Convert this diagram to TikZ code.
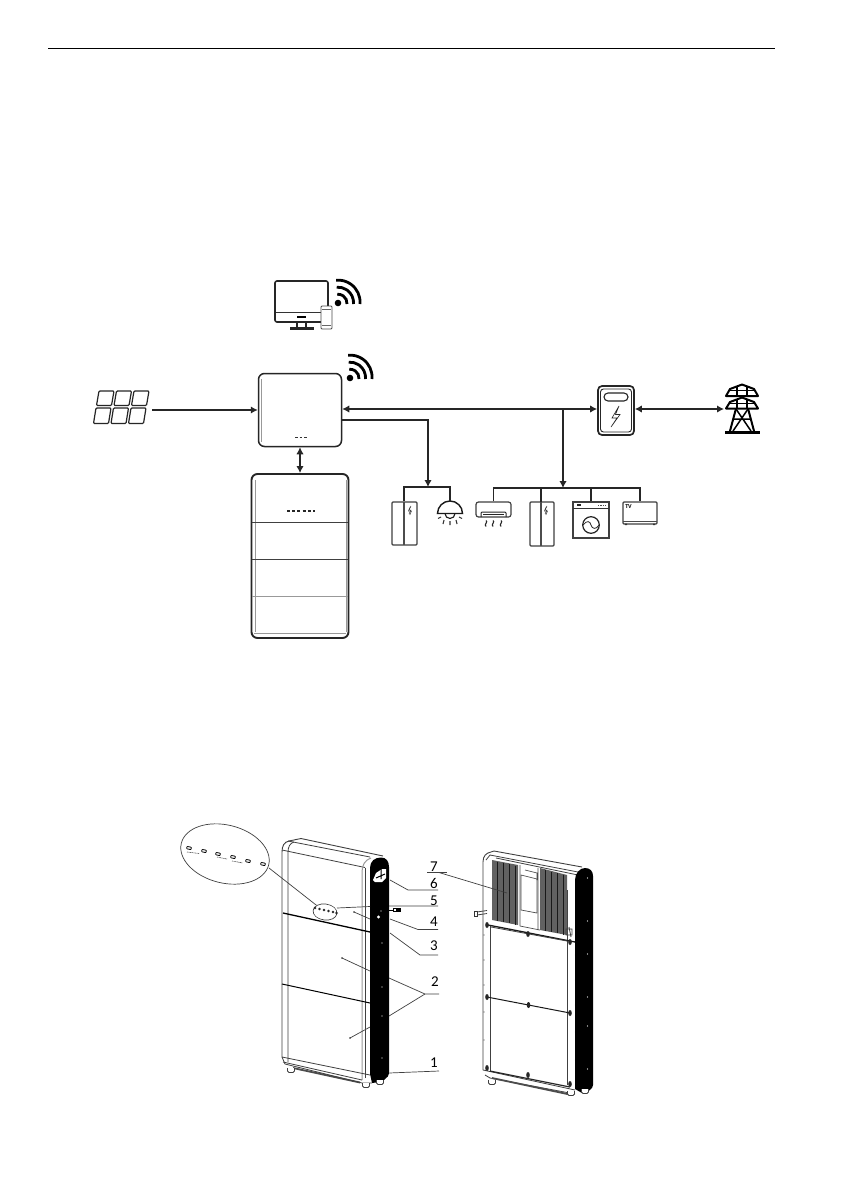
\documentclass[tikz,border=0pt]{standalone}
\usepackage{fontspec}
\setmainfont{Carlito}
\usetikzlibrary{arrows.meta,shapes.geometric}
\tikzset{
  x=1pt,y=-1pt,
  flow/.style={line width=2pt,color=black!85,-{Latex[length=7pt,width=7.5pt]}},
  bothflow/.style={line width=2pt,color=black!85,{Latex[length=7pt,width=7.5pt]}-{Latex[length=7pt,width=7.5pt]}},
  bar/.style={line width=1.7pt,color=black!85},
  box/.style={draw=black!85,line width=1.5pt,rounded corners=6pt,inner sep=0pt,fill=white},
  appl/.style={draw=black!75,line width=1.1pt,rounded corners=1pt,inner sep=0pt,fill=white},
  leader/.style={line width=.7pt,color=black!75},
  thinl/.style={line width=.6pt,color=black!75},
  grayl/.style={line width=.8pt,color=black!40},
  num/.style={font=\fontsize{15}{15}\selectfont,inner sep=0pt,text=black},
  led/.style={draw=black,line width=.8pt,rounded corners=.6pt,minimum width=4.5pt,minimum height=2.4pt,inner sep=0pt,rotate=-12},
  callout/.style={draw=black!75,line width=.7pt,ellipse,inner sep=0pt},
  wifiicon/.pic={
    \fill[black] (0,0) circle (3.3);
    \draw[line width=2.8pt,black] (9,1) arc[start angle=5,end angle=-95,radius=9];
    \draw[line width=2.8pt,black] (15.5,1) arc[start angle=5,end angle=-95,radius=15.5];
    \draw[line width=2.8pt,black] (22,1) arc[start angle=5,end angle=-95,radius=22];
  },
  fridgeicon/.pic={
    \draw[line width=.5pt,black!80] (1,4) -- (-1,8) -- (1,8) -- (-1,12);
    \draw[line width=.5pt,black!80] (0.2,5) -- (-1.5,9) -- (1.5,9) -- (-.2,13);
  }
}
\begin{document}
\begin{tikzpicture}
\useasboundingbox (0,0) rectangle (840,1190);
\fill[white] (0,0) rectangle (840,1190);
\draw[line width=1pt,black] (48,49) -- (775,49);

% ---- monitor and phone
\node[box,rounded corners=2pt,minimum width=53pt,minimum height=41pt,line width=1.6pt] (monitor) at (301.5,301.5) {};
\draw[line width=1pt,black!80] (276,312) -- (328,312);
\fill[black] (297,316) rectangle (306,317.5);
\draw[line width=1.2pt,black!85] (297,322) -- (297,327.5) (306,322) -- (306,327.5);
\draw[line width=1.2pt,black!85] (291,328) rectangle (313,329.5);
\node[draw=black!70,line width=.9pt,fill=white,rounded corners=1pt,minimum width=11pt,minimum height=23pt,inner sep=0pt] (phone) at (326.5,317.5) {};
\draw[line width=.5pt,black!60] (322,309) -- (331,309) (322,325) -- (331,325);
\pic at (338,303) {wifiicon};

% ---- inverter
\node[box,minimum width=83pt,minimum height=73pt] (inverter) at (300,410) {};
\draw[grayl] (261.5,379) -- (261.5,442);
\draw[line width=.8pt,black!80,dash pattern=on 2.6pt off 2pt] (295,437.5) -- (307,437.5);
\pic at (350,378) {wifiicon};

% ---- battery
\node[box,line width=1.9pt,minimum width=97pt,minimum height=164pt] (battery) at (300,556) {};
\draw[grayl,line width=1.2pt] (255.5,480) -- (255.5,632);
\draw[grayl,line width=.6pt] (346,480) -- (346,632);
\draw[thinl,line width=.9pt] (252,522.5) -- (348,522.5);
\draw[thinl,line width=.8pt] (252,559.5) -- (348,559.5);
\draw[grayl,line width=1pt] (252,596.5) -- (348,596.5);
\draw[grayl,line width=1pt] (254,633) -- (346,633);
\draw[line width=1.1pt,black!85,dash pattern=on 3pt off 2.2pt] (287,511) -- (315,511);

% ---- solar panel
\begin{scope}[line width=1.2pt,black!85,rounded corners=1pt]
\foreach \col in {0,1,2}{
  \draw ({99+\col*17.5},391) -- ({114+\col*17.5},391) -- ({111.5+\col*17.5},405.5) -- ({96.5+\col*17.5},405.5) -- cycle;
  \draw ({96+\col*17.5},408) -- ({111+\col*17.5},408) -- ({108.5+\col*17.5},423.5) -- ({93.5+\col*17.5},423.5) -- cycle;
}
\end{scope}
\coordinate (solar) at (152,410);

% ---- meter
\node[box,line width=1.7pt,rounded corners=4pt,minimum width=36pt,minimum height=49pt] (meter) at (616,410.5) {};
\draw[line width=.9pt,black!85,rounded corners=3pt] (600.5,389) rectangle (631.5,432);
\draw[line width=1.1pt,black!85,rounded corners=4pt] (604,393) rectangle (628,401);
\draw[line width=.6pt,black!85] (619,406) -- (612,418) -- (617,418) -- (611,427) -- (620,414.5) -- (615.5,414.5) -- cycle;

% ---- pylon
\coordinate (pylon) at (724,409);
\begin{scope}[line width=2pt,black,line join=round]
\draw (742,384.5) -- (730,389) -- (726,396) -- (758,396) -- (754,389) -- cycle;
\draw[line width=1.4pt] (737,386.5) -- (737,396) (747,386.5) -- (747,396) (730,390.5) -- (754,390.5);
\draw (742,397.5) -- (730,402) -- (726,408.5) -- (758,408.5) -- (754,402) -- cycle;
\draw[line width=1.4pt] (737,400) -- (737,408.5) (747,400) -- (747,408.5) (730,403.5) -- (754,403.5);
\draw (736,408.5) -- (730,431) (748,408.5) -- (754,431);
\draw[line width=1.5pt] (736,409) -- (751,431) (748,409) -- (733,431) (734,419) -- (750,419);
\draw[line width=2.4pt] (725,432.5) -- (760,432.5);
\end{scope}

% ---- home loads, left group
\node[appl,minimum width=25pt,minimum height=43pt] (fridgeA) at (404.5,523.5) {};
\draw[line width=1.2pt,black!70] (404,502) -- (404,545);
\pic at (410,502) {fridgeicon};
\coordinate (lampTop) at (450,502);
\draw[line width=1.4pt,black!90] (437.5,513.5) arc[start angle=180,end angle=360,radius=12.5] -- cycle;
\draw[line width=1.1pt,black!90] (445,513.5) arc[start angle=180,end angle=0,radius=5];
\draw[line width=1.1pt,black!80] (441,517) -- (438,518.5) (444,520) -- (443,524) (450,521) -- (450,525) (456,520) -- (457,524) (459,517) -- (462,518.5);

% ---- home loads, right group
\node[appl,rounded corners=2.5pt,minimum width=35pt,minimum height=15pt,line width=1.2pt] (aircon) at (493.5,509.5) {};
\draw[line width=1pt,black!85,rounded corners=1pt] (481,517) -- (481,512) -- (506,512) -- (506,517);
\draw[line width=1.1pt,black!85] (483,514.5) -- (504,514.5);
\foreach \hx in {486,493,501}{
  \draw[line width=1.1pt,black!85] (\hx,520.5) .. controls (\hx+2.5,522) and (\hx-2.5,524.5) .. (\hx,526.5);
}
\node[appl,minimum width=24pt,minimum height=44pt] (fridgeB) at (542,524) {};
\draw[line width=1.2pt,black!70] (541,502) -- (541,546);
\pic at (546,502) {fridgeicon};
\node[appl,rounded corners=0pt,minimum width=36pt,minimum height=36pt] (washer) at (591,520) {};
\draw[line width=.7pt,black!80] (573,508) -- (609,508);
\draw[line width=1.2pt,black!85] (577,505) -- (581,505);
\draw[line width=1pt,black!70,dash pattern=on 1.2pt off 1.2pt] (598,505) -- (606,505);
\draw[line width=1.2pt,black!85] (591,525) circle (8.3);
\draw[line width=.8pt,black!85] (583,525) .. controls (587,520) and (590,521) .. (591,525) .. controls (592,529) and (596,530) .. (599,525);
\node[appl,minimum width=34pt,minimum height=22pt] (tv) at (640,513) {};
\draw[line width=.6pt,black!70] (623,521.5) -- (657,521.5);
\fill[black!80] (625,523.5) rectangle (627,525) (653,523.5) rectangle (655,525);
\node[inner sep=0pt,font=\bfseries\fontsize{6}{6}\selectfont] (tvlabel) at (628.5,507) {TV};

% ---- connectors
\draw[flow] (solar) -- (inverter.west);
\draw[bothflow] (inverter.south) -- (battery.north);
\coordinate (busInv) at (inverter.east |- 0,409);
\coordinate (busMeter) at (meter.west |- 0,409);
\coordinate (busTap) at (563,409);
\draw[bothflow] (busInv) -- (busMeter);
\coordinate (meterR) at (meter.east |- 0,409);
\draw[bothflow] (meterR) -- (pylon);
\coordinate (invLoad) at (inverter.east |- 0,420);
\coordinate (loadA) at (428,487);
\draw[flow] (invLoad) -- (428,420) -- (loadA);
\draw[bar] (fridgeA.north -| 404,0) -- (404,487) -- (450,487) -- (lampTop);
\coordinate (loadB) at (563,488);
\draw[flow] (busTap) -- (loadB);
\draw[bar] (aircon.north) -- (493.5,488) -- (640,488) -- (tv.north);
\draw[bar] (541,488) -- (541,502);
\draw[bar] (washer.north) -- (591,488);

% ---- front view of the unit
\begin{scope}[line width=.8pt,black!75]
\draw[line width=.9pt] (282,1057) -- (282,852) .. controls (282,846) and (284,842) .. (289,841) -- (301,838.5) -- (383,856);
\draw (288,841) -- (370,857);
\draw (288,1062) -- (288,852) .. controls (288,847) and (290,843) .. (294,842);
\draw (282,850) -- (365,867.5);
\draw[grayl,line width=1pt] (362,1080) -- (362,872) .. controls (362,865) and (365,860) .. (371,858);
\draw[line width=.6pt] (365,1078) -- (365,868);
\draw[line width=1.3pt,black] (283,913) -- (370,932);
\draw[line width=1pt,black] (282,984) -- (370,1003);
\draw (282,1057) -- (370,1075);
\draw (283,1062) -- (362,1080);
\draw[line width=1.8pt,black!70] (293,1068) -- (360,1082.5);
\draw (282,1057) -- (285,1064) -- (362,1083) -- (372,1083);
\end{scope}
\fill[black] (370,1074) -- (370,868) .. controls (370,861) and (375,857.5) .. (381,857.5) .. controls (386,857.5) and (389,861) .. (389,867) -- (389,1072) .. controls (389,1079) and (382,1082) .. (372,1083) -- cycle;
\fill[white] (373,880) -- (376,873) -- (382,869) -- (386,869) -- (386,878) -- (382,882) -- (375,882) -- cycle;
\draw[line width=1pt,black] (381,869) -- (381,879) (376,878) -- (385,874);
\fill[white] (378.5,917) circle (1.6);
\foreach \py in {943,987,1016,1058}{\fill[white] (382,\py) circle (.7);}
\fill[white] (381,911) circle (.6);
\draw[line width=.7pt,black] (389,910) -- (393,910);
\draw[line width=.7pt,black] (393,908.5) rectangle (400,911.5);
\fill[black] (396,908.5) rectangle (400,911.5);
\foreach \fx/\fy in {291/1071,366/1086,380/1083}{
  \draw[line width=.8pt,black!75,fill=white] (\fx-3.5,\fy-3) -- (\fx-3.5,\fy) -- (\fx-2,\fy+1.5) -- (\fx+2,\fy+1.5) -- (\fx+3.5,\fy) -- (\fx+3.5,\fy-3);
}

% ---- callout
\node[callout,rotate=-14,minimum width=90pt,minimum height=58pt] (bigoval) at (225,854) {};
\node[callout,rotate=-8,minimum width=24pt,minimum height=16pt] (smalloval) at (325,912) {};
\coordinate (ovalA) at (269,868);
\draw[leader] (ovalA) -- (smalloval);
\fill[white] (325,912) ellipse (11 and 7);
\foreach \lx/\ly in {189/848,204/851,218/854,233/857,248/861,263/864}{\node[led] at (\lx,\ly) {};}
\draw[line width=.6pt,black!70,dash pattern=on 1pt off .6pt] (187,852) -- (199,853.5);
\draw[line width=.6pt,black!70,dash pattern=on 1pt off .6pt] (217,857) -- (227,859) (232,861) -- (243,863);
\foreach \sx/\sy in {315/908,319.5/909,324/910,328.5/911,333/912,336.5/913}{
  \fill[black!85] (\sx,\sy) ellipse (1.5 and 1.3);
}

% ---- back view of the unit
\begin{scope}[line width=.8pt,black!75]
\draw[line width=.9pt] (483,1070) -- (483,862) .. controls (483,856) and (486,853) .. (491,852) -- (494,851) -- (582,867);
\draw (490,1072) -- (490,925);
\draw (486,860) -- (490,855) -- (578,872);
\draw (567,1085) -- (567,890);
\draw[line width=1.3pt,black!90] (488,925) -- (575,942);
\draw[line width=1pt,black!90] (487,997) -- (570,1013);
\draw (483,1070) -- (575,1090);
\draw (485,1075) -- (490,1078) -- (575,1094);
\draw[line width=1.8pt,black!70] (492,1078) -- (572,1095);
\draw[line width=1.2pt,black!85] (490,1071) -- (570,1087);
\draw (496,858) -- (578,875);
\draw (491,927) -- (567,941);
\end{scope}
\foreach \bx/\by in {487/925,528/934,570/942,487/997,528.5/1005,570/1013,487/1068,528/1075,570/1084}{
  \fill[black!85] (\bx,\by) ellipse (1.8 and 3);
}
\foreach \ey in {935,960,985,1012,1040}{\fill[black!70] (484,\ey) circle (.6);\fill[black!70] (575.5,\ey+20) circle (.6);}
% heat sinks
\fill[black!62] (492,860) -- (518,865) -- (518,925) -- (492,920) -- cycle;
\fill[black!62] (540,868) -- (567,875) -- (567,935) -- (540,930) -- cycle;
\foreach \sx in {497,503,509,515}{\draw[line width=1pt,black!90] (\sx,{861+(\sx-492)*0.2}) -- (\sx,{920+(\sx-492)*0.2});}
\foreach \sx in {545,551,557,563}{\draw[line width=1pt,black!90] (\sx,{869+(\sx-540)*0.25}) -- (\sx,{930+(\sx-540)*0.2});}
% module between sinks
\draw[line width=.7pt,black!70] (521,875) -- (537,879) -- (537,913) -- (521,910) -- cycle;
\draw[line width=.7pt,black!70] (525,870) -- (537,873) -- (537,880) (520,865) -- (520,926) (538,868) -- (538,930);
\draw[line width=.7pt,black!70] (520,926) -- (540,930);
\draw[line width=1pt,black!80] (474,911) rectangle (477,916);
\draw[line width=.8pt,black!75] (477,912) -- (487,910.5) (477,915) -- (487,913.5);
\draw[line width=.8pt,black!75] (569,927) -- (571,937) (566,929) rectangle (572,935);
% dark side
\fill[black] (575,1089) -- (575,880) .. controls (575,873) and (580,868) .. (585,868) .. controls (590,868) and (593,871) .. (593,876) -- (593,1085) .. controls (593,1089) and (588,1092) .. (582,1093) -- cycle;
\foreach \py in {878,921,954,997,1026,1069}{\fill[white] (587.5,\py) circle (.7);}
\foreach \fx/\fy in {492/1083,571/1094,585/1092}{
  \draw[line width=.8pt,black!75,fill=white] (\fx-3.5,\fy-3) -- (\fx-3.5,\fy) -- (\fx-2,\fy+1.5) -- (\fx+2,\fy+1.5) -- (\fx+3.5,\fy) -- (\fx+3.5,\fy-3);
}

% ---- numbered leaders
\node[num] (n7) at (434,866.5) {7};
\node[num] (n6) at (434,883.5) {6};
\node[num] (n5) at (434,901) {5};
\node[num] (n4) at (434,922) {4};
\node[num] (n3) at (434,946) {3};
\node[num] (n2) at (435,982) {2};
\node[num] (n1) at (434,1063) {1};
\coordinate (t7) at (507,893);
\draw[leader] (427,872.5) -- (447,872.5);
\draw[leader] (439,872.5) -- (t7);
\draw[leader] (390,880) -- (408,890) -- (438,890);
\draw[leader] (337,908) -- (370,906.5) (389,906) -- (438,906);
\draw[leader] (354,912) -- (370,919) (390,919) -- (418,929.5) -- (438,929.5);
\draw[leader] (390,933) -- (420,955) -- (438,955);
\draw[leader] (439,994) -- (425,994) -- (389,978);
\draw[leader] (425,994) -- (389,1016);
\draw[leader] (342,958) -- (370,971);
\draw[leader] (350,1038) -- (370,1027);
\fill[black!80] (342,958) circle (.8) (350,1038) circle (.8) (354,912) circle (.8);
\draw[leader] (389,1073) -- (439,1071);
\end{tikzpicture}
\end{document}
